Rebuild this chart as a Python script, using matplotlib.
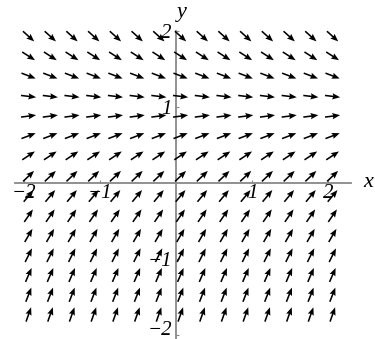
import numpy as np
import matplotlib
matplotlib.use("Agg")
import matplotlib.pyplot as plt

plt.rcParams["font.family"] = ["Liberation Serif", "DejaVu Serif"]

# grid of sample points (x columns, y rows)
x_pts = [-1.94, -1.654, -1.369, -1.083, -0.797, -0.511, -0.226, 0.06,
         0.346, 0.631, 0.917, 1.203, 1.489, 1.774, 2.06]
y_pts = [1.93, 1.67, 1.41, 1.14, 0.88, 0.62, 0.36, 0.09,
         -0.17, -0.43, -0.69, -0.95, -1.21, -1.47, -1.73]
# slope dy/dx of each row
slopes = [-0.9, -0.64, -0.38, -0.12, 0.13, 0.38, 0.66, 0.95,
          1.2, 1.45, 1.72, 2.0, 2.3, 2.55, 2.8]

xticks = [-2, -1, 1, 2]
xtick_labels = ["\u22122", "\u22121", "1", "2"]
yticks = [-2, -1, 1, 2]
ytick_labels = ["\u22122", "\u22121", "1", "2"]

fig = plt.figure(figsize=(3.75, 3.39), dpi=100)
ax = fig.add_axes([0, 0, 1, 1])

X, Y = np.meshgrid(x_pts, y_pts)
S = np.array(slopes)[:, None] * np.ones_like(X)
L = 0.2
norm = np.sqrt(1 + S**2)
U = L / norm
V = L * S / norm

ax.quiver(X, Y, U, V, angles="xy", scale_units="xy", scale=1, pivot="middle",
          color="black", width=0.0042, headwidth=4.0, headlength=5.0,
          headaxislength=4.4, zorder=3)

ax.set_xlim(-2.316, 2.618)
ax.set_ylim(-2.053, 2.408)

for s in ["top", "right"]:
    ax.spines[s].set_visible(False)
ax.spines["left"].set_position(("data", 0))
ax.spines["bottom"].set_position(("data", 0))
ax.spines["left"].set_bounds(-2.05, 2.0)
ax.spines["bottom"].set_bounds(-2.12, 2.3)
for s in ["left", "bottom"]:
    ax.spines[s].set_color("#888888")
    ax.spines[s].set_linewidth(1.3)

ax.set_xticks(xticks)
ax.set_xticklabels(xtick_labels, fontsize=15, style="italic")
ax.set_yticks(yticks)
ax.set_yticklabels(ytick_labels, fontsize=15, style="italic")
ax.tick_params(axis="both", direction="in", length=2.5, width=0.8,
               color="#888888", pad=1)
ax.tick_params(axis="y", pad=3)
# keep the lowest y label inside the picture
ax.get_yticklabels()[0].set_va("baseline")

ax.text(2.53, 0, "x", fontsize=16, style="italic", ha="center", va="center")
ax.text(0.07, 2.25, "y", fontsize=16, style="italic", ha="center", va="center")

fig.savefig("out.png", dpi=100)
